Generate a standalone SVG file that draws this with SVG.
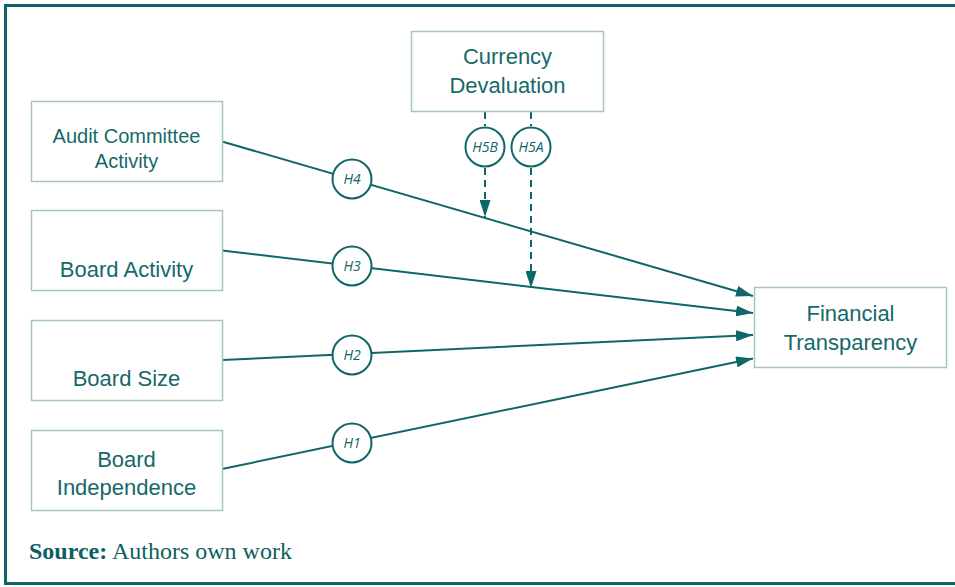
<svg xmlns="http://www.w3.org/2000/svg" width="955" height="587" viewBox="0 0 955 587">
  <defs>
    <style>
      .box { fill: #ffffff; stroke: #a9c2c2; stroke-width: 1.5; }
      .lbl { font-family: "Liberation Sans", Arial, sans-serif; font-size: 22px; fill: #16696a; text-anchor: middle; }
      .hyp { fill: #ffffff; stroke: #0f6668; stroke-width: 2; }
      .htxt { font-family: "Open Sans", "Liberation Sans", sans-serif; font-style: italic; font-size: 14px; fill: #0f6668; text-anchor: middle; }
      .path { stroke: #0f6668; stroke-width: 2; fill: none; }
      .dash { stroke: #0f6668; stroke-width: 2; fill: none; stroke-dasharray: 7 5; }
    </style>
    <marker id="arrow" viewBox="0 0 17 11" refX="17" refY="5.5" markerWidth="17" markerHeight="11" markerUnits="userSpaceOnUse" orient="auto">
      <path d="M0,0 L17,5.5 L0,11 Z" fill="#0f6668"/>
    </marker>
  </defs>

  <rect width="955" height="587" fill="#ffffff"/>
  <!-- outer frame -->
  <rect x="5.5" y="5.5" width="960" height="578" fill="none" stroke="#0d6567" stroke-width="3"/>

  <!-- connectors -->
  <g id="connectors">
    <line class="path" x1="222" y1="141.5" x2="753" y2="296" marker-end="url(#arrow)"/>
    <line class="path" x1="222" y1="250.5" x2="753" y2="313" marker-end="url(#arrow)"/>
    <line class="path" x1="222" y1="360" x2="753" y2="335" marker-end="url(#arrow)"/>
    <line class="path" x1="222" y1="469" x2="753" y2="358.5" marker-end="url(#arrow)"/>
    <line class="dash" x1="485" y1="112" x2="485" y2="126"/>
    <line class="dash" x1="485" y1="168" x2="485" y2="217" marker-end="url(#arrow)"/>
    <line class="dash" x1="531" y1="112" x2="531" y2="126"/>
    <line class="dash" x1="531" y1="168" x2="531" y2="288" marker-end="url(#arrow)"/>
  </g>

  <!-- hypothesis markers -->
  <g id="h4"><circle class="hyp" cx="352" cy="179" r="19.5"/><text class="htxt" x="352" y="184">H4</text></g>
  <g id="h3"><circle class="hyp" cx="352" cy="266" r="19.5"/><text class="htxt" x="352" y="271">H3</text></g>
  <g id="h2"><circle class="hyp" cx="352" cy="355" r="19.5"/><text class="htxt" x="352" y="360">H2</text></g>
  <g id="h1"><circle class="hyp" cx="352" cy="443" r="19.5"/><text class="htxt" x="352" y="448">H1</text></g>
  <g id="h5b"><circle class="hyp" cx="485" cy="147" r="19.5"/><text class="htxt" x="485" y="152">H5B</text></g>
  <g id="h5a"><circle class="hyp" cx="531" cy="147" r="19.5"/><text class="htxt" x="531" y="152">H5A</text></g>

  <!-- variables -->
  <g id="currency-devaluation">
    <rect class="box" x="411.5" y="31.5" width="192" height="80"/>
    <text class="lbl" x="507.5" y="64">Currency</text>
    <text class="lbl" x="507.5" y="92.5">Devaluation</text>
  </g>
  <g id="audit-committee-activity">
    <rect class="box" x="31.5" y="101.5" width="191" height="80"/>
    <text class="lbl" x="126.5" y="142.5" style="font-size:20px">Audit Committee</text>
    <text class="lbl" x="126.5" y="167.5" style="font-size:20px">Activity</text>
  </g>
  <g id="board-activity">
    <rect class="box" x="31.5" y="210.5" width="191" height="80"/>
    <text class="lbl" x="126.5" y="277">Board Activity</text>
  </g>
  <g id="board-size">
    <rect class="box" x="31.5" y="320.5" width="191" height="80"/>
    <text class="lbl" x="126.5" y="386">Board Size</text>
  </g>
  <g id="board-independence">
    <rect class="box" x="31.5" y="430.5" width="191" height="80"/>
    <text class="lbl" x="126.5" y="467">Board</text>
    <text class="lbl" x="126.5" y="495">Independence</text>
  </g>
  <g id="financial-transparency">
    <rect class="box" x="754.5" y="287.5" width="192" height="80"/>
    <text class="lbl" x="850.5" y="321">Financial</text>
    <text class="lbl" x="850.5" y="349.5">Transparency</text>
  </g>

  <text x="29" y="559" font-family="'Liberation Serif', 'Times New Roman', serif" font-size="24" fill="#0d5f61"><tspan font-weight="bold">Source:</tspan> Authors own work</text>
</svg>
